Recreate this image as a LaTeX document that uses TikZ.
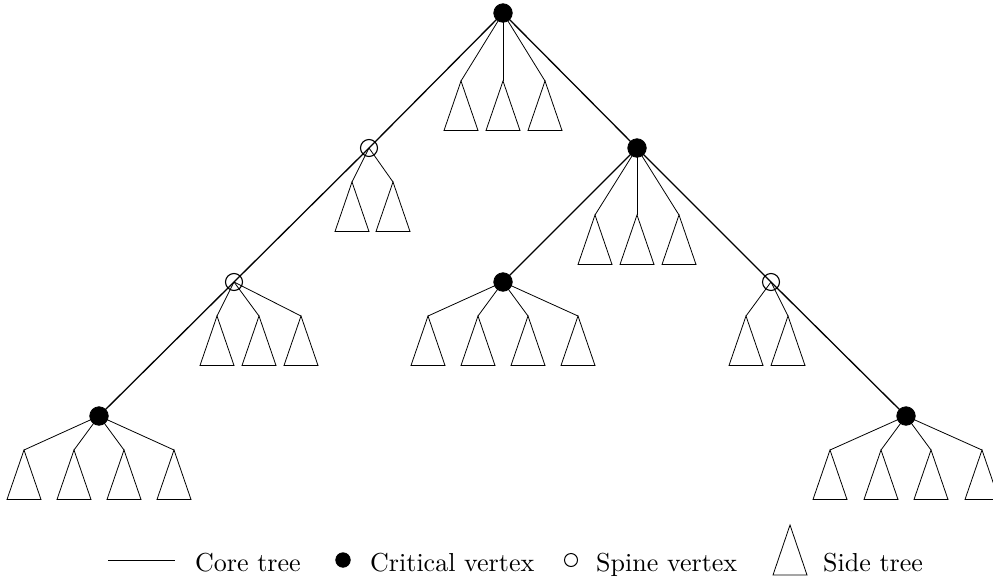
\documentclass[tikz,border=0pt]{standalone}
\usepackage{graphicx}
\newcommand{\legendlabel}[1]{\scalebox{2.6}{\fontsize{10}{12}\selectfont #1}}
\begin{document}
\begin{tikzpicture}[x=1pt,y=-1pt,
  core/.style={line width=1.3pt},
  thin/.style={line width=0.8pt},
  critical/.style={circle,fill=black,draw=black,line width=0.8pt,minimum size=18.5pt,inner sep=0pt},
  spine/.style={circle,draw=black,line width=1.1pt,minimum size=17pt,inner sep=0pt},
  legtext/.style={anchor=base west,inner sep=0pt}]
\useasboundingbox (0,0) rectangle (993,581);

% vertices of the core tree
\coordinate (R) at (503,13);
\coordinate (A) at (369,148);
\coordinate (B) at (637,148);
\coordinate (C) at (234,282);
\coordinate (D) at (503,282);
\coordinate (E) at (771,282);
\coordinate (F) at (99,416);
\coordinate (G) at (906,416);

% side trees: apex coordinates, edge from the vertex, triangle below
\foreach \v/\xs/\y in {R/{461,503,545}/81, A/{352,393}/182, B/{595,637,679}/215,
                       C/{217,259,301}/316, D/{428,478,528,578}/316, E/{746,788}/316,
                       F/{24,74,124,174}/450, G/{830,881,931,982}/450}{
  \foreach \x [count=\i] in \xs {
    \coordinate (\v-s\i) at (\x,\y);
    \draw[thin] (\v) -- (\v-s\i);
    \draw[thin,line join=miter] (\v-s\i) -- ++(-17,49.5) -- ++(34,0) -- cycle;
  }
}

% core tree edges
\draw[core] (R) -- (A) -- (C) -- (F);
\draw[core] (R) -- (B) -- (E) -- (G);
\draw[core] (B) -- (D);

% vertex marks
\foreach \v in {R,B,D,F,G} \node[critical] at (\v) {};
\foreach \v in {A,C,E} \node[spine] at (\v) {};

% legend
\coordinate (l1) at (108,560);
\coordinate (l2) at (175,560);
\draw[line width=1pt] (l1) -- (l2);
\node[legtext] (t1) at (195,571) {\legendlabel{Core tree}};
\node[critical,minimum size=14.5pt] (m2) at (343,560) {};
\node[legtext] (t2) at (370,571) {\legendlabel{Critical vertex}};
\node[spine,minimum size=13pt,line width=1pt] (m3) at (571,560) {};
\node[legtext] (t3) at (596,571) {\legendlabel{Spine vertex}};
\coordinate (m4) at (790,525);
\draw[thin,line join=miter] (m4) -- ++(-17,50) -- ++(34,0) -- cycle;
\node[legtext] (t4) at (823,571) {\legendlabel{Side tree}};
\end{tikzpicture}
\end{document}
